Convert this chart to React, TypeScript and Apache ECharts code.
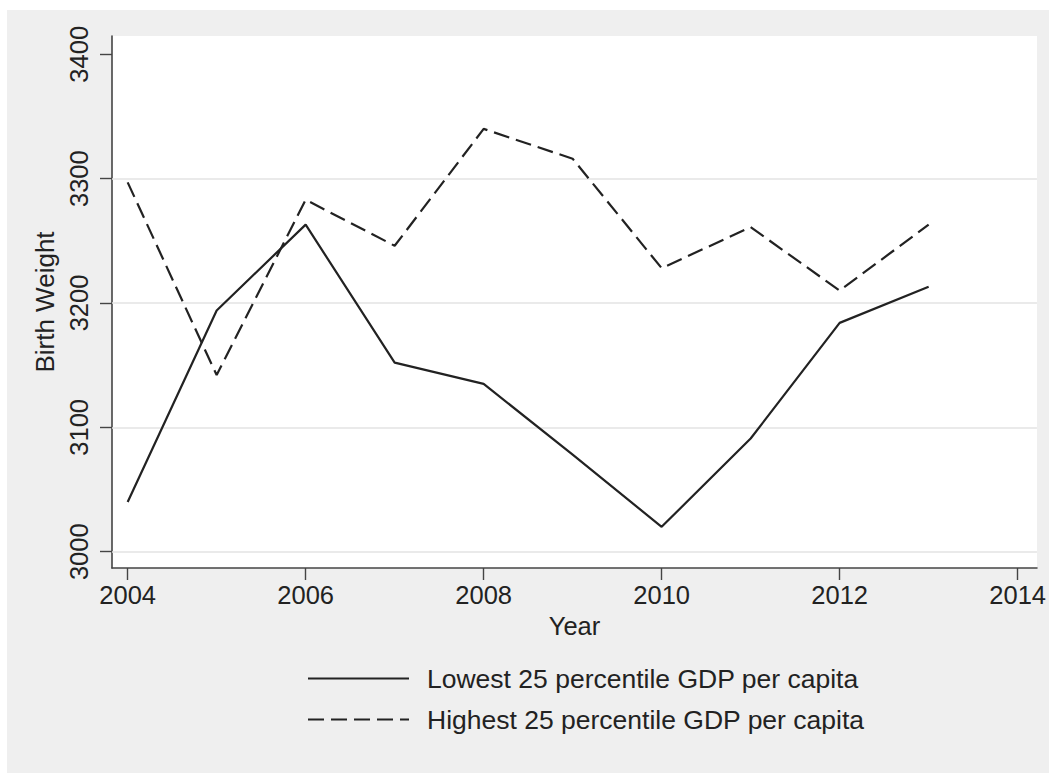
import React, { useEffect, useRef } from "react";
import * as echarts from "echarts";

// Birth weight by year for the two GDP-per-capita groups
const years = [2004, 2005, 2006, 2007, 2008, 2009, 2010, 2011, 2012, 2013];
const lowestGdp = [3040, 3194, 3263, 3152, 3135, 3078, 3020, 3091, 3184, 3213];
const highestGdp = [3297, 3142, 3283, 3246, 3340, 3316, 3228, 3261, 3210, 3263];

const xTicks = [2004, 2006, 2008, 2010, 2012, 2014];
const yTicks = [3000, 3100, 3200, 3300, 3400];
const gridValues = [3000, 3100, 3200, 3300];

const seriesNames = [
  "Lowest 25 percentile GDP per capita",
  "Highest 25 percentile GDP per capita",
];

const FONT = "'Liberation Sans', Arial, Helvetica, sans-serif";
const INK = "#222";

export default function App() {
  const ref = useRef<HTMLDivElement>(null);

  useEffect(() => {
    if (!ref.current) return;
    const chart = echarts.init(ref.current, undefined, { renderer: "svg" });

    const toPairs = (vals: number[]) => years.map((y, i) => [y, vals[i]]);

    chart.setOption({
      animation: false,
      backgroundColor: "transparent",
      textStyle: { fontFamily: FONT },
      grid: {
        left: 105,
        top: 26,
        right: 12,
        bottom: 205,
        show: true,
        backgroundColor: "#ffffff",
        borderWidth: 0,
      },
      xAxis: {
        type: "value",
        min: 2003.824,
        max: 2014.217,
        name: "Year",
        nameLocation: "middle",
        nameGap: 37,
        nameTextStyle: { fontSize: 25.5, color: INK, fontFamily: FONT },
        axisLine: { show: true, lineStyle: { color: "#444", width: 1.6 } },
        axisTick: {
          show: true,
          length: 12,
          inside: false,
          customValues: xTicks,
          lineStyle: { color: "#444", width: 1.4 },
        },
        axisLabel: {
          customValues: xTicks,
          formatter: (v: number) => String(v),
          fontSize: 25.5,
          color: INK,
          fontFamily: FONT,
          margin: 14,
        },
        splitLine: { show: false },
      },
      yAxis: {
        type: "value",
        min: 2986.9,
        max: 3414.7,
        name: "Birth Weight",
        nameLocation: "middle",
        nameGap: 54,
        nameRotate: 90,
        nameTextStyle: { fontSize: 26, color: INK, fontFamily: FONT },
        axisLine: { show: true, lineStyle: { color: "#444", width: 1.6 } },
        axisTick: {
          show: true,
          length: 12,
          inside: false,
          customValues: yTicks,
          lineStyle: { color: "#444", width: 1.4 },
        },
        axisLabel: {
          customValues: yTicks,
          formatter: (v: number) => String(v),
          rotate: 90,
          fontSize: 25.5,
          color: INK,
          fontFamily: FONT,
          margin: 20,
        },
        splitLine: { show: false },
      },
      legend: {
        orient: "vertical",
        left: 300,
        top: 655,
        padding: 0,
        itemWidth: 101,
        itemHeight: 24,
        itemGap: 14,
        itemStyle: { opacity: 0 },
        textStyle: {
          fontSize: 26.5,
          color: INK,
          fontFamily: FONT,
          lineHeight: 24,
          padding: [0, 0, 0, 13],
        },
        data: seriesNames,
      },
      series: [
        {
          name: seriesNames[0],
          type: "line",
          data: toPairs(lowestGdp),
          symbol: "none",
          z: 3,
          lineStyle: { color: INK, width: 2.2, type: "solid" },
          itemStyle: { color: INK },
          markLine: {
            silent: true,
            symbol: "none",
            z: 1,
            label: { show: false },
            lineStyle: { color: "#e3e3e3", width: 1.5, type: "solid" },
            data: gridValues.map((v) => ({ yAxis: v })),
          },
        },
        {
          name: seriesNames[1],
          type: "line",
          data: toPairs(highestGdp),
          symbol: "none",
          z: 3,
          lineStyle: { color: INK, width: 2.2, type: [16, 7] },
          itemStyle: { color: INK },
        },
      ],
    });

    return () => chart.dispose();
  }, []);

  return (
    <div
      style={{
        position: "fixed",
        left: 0,
        top: 0,
        width: 1049,
        height: 773,
        background: "#ffffff",
      }}
    >
      <div
        ref={ref}
        style={{
          position: "absolute",
          left: 7,
          top: 10,
          width: 1042,
          height: 763,
          background: "#efefef",
        }}
      />
    </div>
  );
}
